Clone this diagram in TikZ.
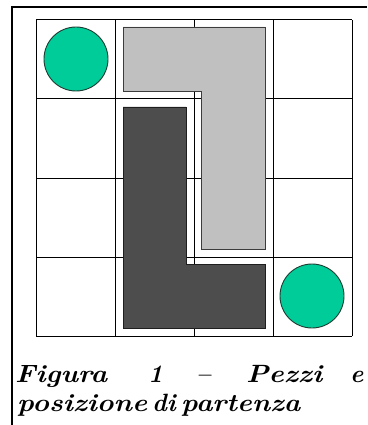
\documentclass[tikz,border=0pt]{standalone}
\usepackage{fontspec}
\newcommand{\capfont}{\fontsize{25pt}{30pt}\selectfont\bfseries\itshape}
\newcommand{\capword}[2]{\resizebox{#1}{\height}{\capfont #2}}
\begin{document}
\begin{tikzpicture}[x=1pt,y=-1pt,
  gridline/.style={draw=black,line width=1pt},
  frameline/.style={draw=black,line width=2.2pt},
  lightpiece/.style={fill={rgb,255:red,192;green,192;blue,192},draw={rgb,255:red,60;green,60;blue,60},line width=0.9pt},
  darkpiece/.style={fill={rgb,255:red,77;green,77;blue,77},draw={rgb,255:red,30;green,30;blue,30},line width=0.9pt},
  token/.style={circle,minimum size=64pt,inner sep=0pt,fill={rgb,255:red,0;green,204;blue,153},draw={rgb,255:red,30;green,60;blue,50},line width=0.9pt},
  caption/.style={anchor=base west,inner sep=0pt}]
\useasboundingbox (0,0) rectangle (367,425);
\fill[white] (0,0) rectangle (367,425);
% frame (left and top edges)
\coordinate (fbl) at (12,425);
\coordinate (ftl) at (12,7);
\coordinate (ftr) at (367,7);
\draw[frameline] (fbl) -- (ftl) -- (ftr);
% grid
\foreach \i in {0,1,2,3,4} {
  \draw[gridline] (36+79*\i,20) -- (36+79*\i,336);
  \draw[gridline] (36,20+79*\i) -- (352,20+79*\i);
}
% pieces
\draw[lightpiece] (123,27) -- (265,27) -- (265,249) -- (201,249) -- (201,91) -- (123,91) -- cycle;
\draw[darkpiece] (123,107) -- (186,107) -- (186,264) -- (265,264) -- (265,328) -- (123,328) -- cycle;
% tokens
\node[token] (t1) at (76,59) {};
\node[token] (t2) at (312,296) {};
% caption
\node[caption] (w1) at (15,382) {\capword{92pt}{Figura}};
\node[caption] (w2) at (148,382) {\capfont 1};
\node[caption] (w3) at (196,382) {\capfont --};
\node[caption] (w4) at (246,382) {\capword{76pt}{Pezzi}};
\node[caption] (w5) at (350,382) {\capfont e};
\node[caption] (w6) at (17,411) {\capword{130pt}{posizione}};
\node[caption] (w7) at (152,411) {\capfont di};
\node[caption] (w8) at (181,411) {\capword{119pt}{partenza}};
\end{tikzpicture}
\end{document}
